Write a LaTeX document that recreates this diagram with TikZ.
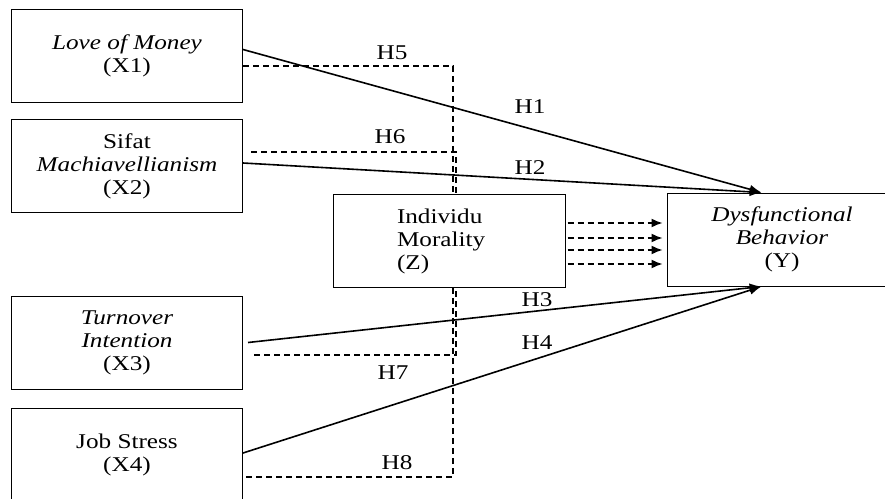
\documentclass[tikz,border=0pt]{standalone}
\usepackage{fontspec}
\setmainfont[FakeStretch=1.2]{Liberation Serif}
\usetikzlibrary{arrows.meta}
\usetikzlibrary{calc}
\tikzset{
  var/.style={draw, line width=1pt, align=center, minimum width=231pt,
    minimum height=93pt, inner sep=0pt, font=\fontsize{21}{23}\selectfont},
  hyp/.style={inner sep=0pt, font=\fontsize{21}{23}\selectfont},
  direct/.style={line width=1.6pt, -{Latex[length=12pt,width=9pt]}},
  moder/.style={line width=1.5pt, dash pattern=on 6pt off 4pt},
}

\begin{document}
\begin{tikzpicture}[x=1pt, y=-1pt]
      \path[use as bounding box] (0,0) rectangle (885,498);
      \clip (0,0) rectangle (885,498);

      \node[var] (x1) at (127,55.5) {\textit{Love of Money}\\(X1)};
      \node[var] (x2) at (127,166) {Sifat\\\textit{Machiavellianism}\\(X2)};
      \node[var] (x3) at (127,342.5) {\textit{Turnover}\\\textit{Intention}\\(X3)};
      \node[var] (x4) at (127,455) {Job Stress\\(X4)};
      \node[var, align=left, text width=104pt, inner xsep=64pt, minimum width=0pt]
        (z) at (449,241) {Individu\\Morality\\(Z)};
      \node[var, minimum width=230pt] (y) at (782,239.5)
        {\textit{Dysfunctional}\\\textit{Behavior}\\(Y)};

      \coordinate (ytop) at ($(y.north west)+(95,0)$);
      \coordinate (ybot) at ($(y.south west)+(95,0)$);

      \draw[direct] ([yshift=6pt]x1.east) -- (ytop);
      \draw[direct] ([yshift=3pt]x2.east) -- (ytop);
      \draw[direct] ([xshift=5pt]x3.east) -- (ybot);
      \draw[direct] ([yshift=2pt]x4.east) -- (ybot);

      \draw[moder] ([yshift=-10.5pt]x1.east) -| ([xshift=4pt]z.north);
      \draw[moder] ([xshift=8pt,yshift=14pt]x2.east) -| ([xshift=7pt]z.north);
      \draw[moder] ([xshift=11pt,yshift=-12.5pt]x3.east) -| ([xshift=7pt]z.south);
      \draw[moder] ([xshift=3pt,yshift=-22pt]x4.east) -| ([xshift=4pt]z.south);

      \foreach \o in {18,3,-9,-23}
        \draw[moder, -{Latex[length=11pt,width=9pt]}] ($(z.east)+(2,-\o)$)
          -- ($(z.east -| y.west)+(-4,-\o)$);

      \node[hyp] (h1) at (530,107) {H1};
      \node[hyp] (h2) at (530,168) {H2};
      \node[hyp] (h3) at (537,300) {H3};
      \node[hyp] (h4) at (537,343) {H4};
      \node[hyp] (h5) at (392,53) {H5};
      \node[hyp] (h6) at (390,137) {H6};
      \node[hyp] (h7) at (393,373) {H7};
      \node[hyp] (h8) at (397,463) {H8};
    \end{tikzpicture}
\end{document}
